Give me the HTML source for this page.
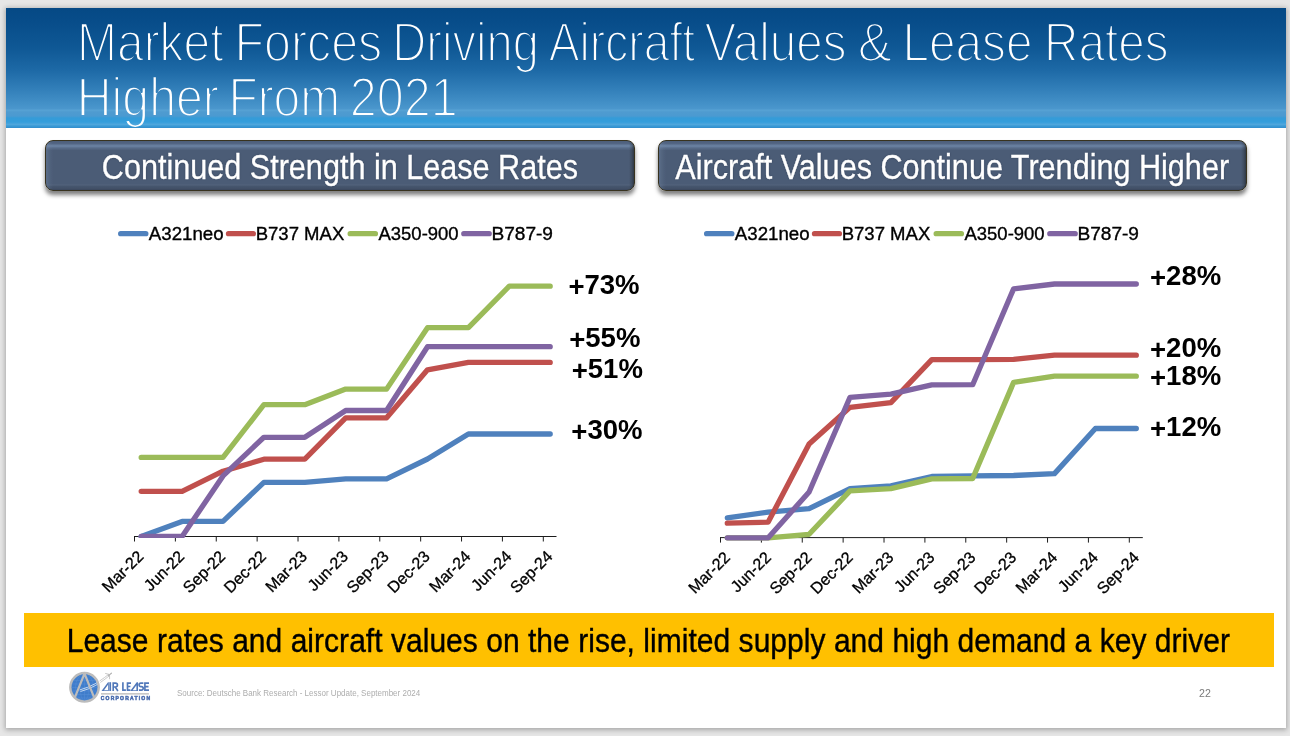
<!DOCTYPE html>
<html>
<head>
<meta charset="utf-8">
<title>Market Forces Driving Aircraft Values &amp; Lease Rates</title>
<style>
  html, body { margin: 0; padding: 0; }
  body {
    width: 1290px; height: 736px; overflow: hidden; position: relative;
    background: #e6e6e6;
    font-family: "Liberation Sans", sans-serif;
  }
  #slide {
    position: absolute; left: 6px; top: 8px; width: 1280px; height: 720px;
    background: #ffffff;
    box-shadow: 0 1px 5px 1px rgba(0,0,0,0.28);
    overflow: hidden; will-change: transform;
  }
  #header {
    position: absolute; left: 0; top: 0; width: 1280px; height: 120px;
    background: linear-gradient(to bottom,
      #054985 0px, #074c89 12px, #0f5895 40px, #1d69a6 62px, #3380ba 82px,
      #4491c8 96px, #4b97cd 101px, #58a3d5 102px, #4f9bd0 104px, #4b9ad1 108px,
      #349bd8 110px, #359edb 114px, #4fa6dc 116.5px, #3a9bd6 118px, #328ccb 120px);
  }
  .btn {
    position: absolute; top: 131.5px; height: 51.5px; box-sizing: border-box;
    border-radius: 8px;
    background:
      linear-gradient(to right, rgba(120,140,170,0.35) 0px, rgba(120,140,170,0.12) 4px, rgba(0,0,0,0) 7px),
      linear-gradient(to left, rgba(25,28,30,0.55) 0px, rgba(25,28,30,0.22) 2.5px, rgba(0,0,0,0) 5px),
      linear-gradient(to bottom, #4c5e79 0px, #526583 2.5px, #6c84a4 5px, #586c8a 7px, #4b5c76 9.5px, #4b5c76 43px, #53637c 44px, #46566e 45px, #414f66 48px, #39455a 49px);
    border: 1.5px solid #38331f;
    box-shadow: 0 4px 4.5px rgba(0,0,0,0.5);
    color: #fff; text-align: center; white-space: nowrap; text-shadow: 0 0.5px 1.5px rgba(15,25,45,0.6);
    font-size: 30.6px; line-height: 48.6px;
  }
  .btn span { display: inline-block; position: relative; top: 3.2px; -webkit-text-stroke: 0.3px #fff;
    transform: scaleY(1.16); transform-origin: 50% 36px; }
  #banner {
    position: absolute; left: 18px; top: 605px; width: 1250px; height: 54px;
    background: #ffc000;
  }
  #bannertext {
    position: absolute; left: 60.7px; top: 616.5px; white-space: nowrap;
    font-size: 30px; line-height: 34px; color: #000; -webkit-text-stroke: 0.35px #000;
    letter-spacing: 0.03px;
    transform: scaleY(1.082); transform-origin: 0 26.5px;
  }
  #source {
    position: absolute; left: 171px; top: 680px; white-space: nowrap;
    font-size: 8px; line-height: 10px; color: #adadad;
    transform: scaleY(1.07); transform-origin: 0 8.2px; margin-top: 0.8px;
  }
  #pagenum {
    position: absolute; left: 1193px; top: 679px; white-space: nowrap;
    font-size: 10.6px; line-height: 12px; color: #7a7a7a;
  }
  svg { position: absolute; left: 0; top: 0; overflow: visible; }
  svg text { font-family: "Liberation Sans", sans-serif; }
</style>
</head>
<body>
<div id="slide">
  <div id="header"></div>

  <!-- Title (thin-weight look through mask) -->
  <svg id="title" width="1280" height="130" viewBox="0 0 1280 130">
    <defs>
      <mask id="thin" maskUnits="userSpaceOnUse" x="0" y="0" width="1280" height="130">
        <g font-size="55.3" fill="#fff" stroke="#000" stroke-width="2.25" stroke-linejoin="round">
          <text x="71.06" y="53.0" textLength="146.50" lengthAdjust="spacingAndGlyphs">Market</text>
          <text x="228.50" y="53.0" textLength="147.71" lengthAdjust="spacingAndGlyphs">Forces</text>
          <text x="386.37" y="53.0" textLength="146.53" lengthAdjust="spacingAndGlyphs">Driving</text>
          <text x="542.65" y="53.0" textLength="146.52" lengthAdjust="spacingAndGlyphs">Aircraft</text>
          <text x="698.47" y="53.0" textLength="142.18" lengthAdjust="spacingAndGlyphs">Values</text>
          <text x="851.70" y="53.0" textLength="34.24" lengthAdjust="spacingAndGlyphs">&amp;</text>
          <text x="896.40" y="53.0" textLength="130.13" lengthAdjust="spacingAndGlyphs">Lease</text>
          <text x="1037.98" y="53.0" textLength="124.63" lengthAdjust="spacingAndGlyphs">Rates</text>
          <text x="70.75" y="108.0" textLength="142.16" lengthAdjust="spacingAndGlyphs">Higher</text>
          <text x="222.42" y="108.0" textLength="111.75" lengthAdjust="spacingAndGlyphs">From</text>
          <text x="343.76" y="108.0" textLength="107.90" lengthAdjust="spacingAndGlyphs">2021</text>
        </g>
      </mask>
    </defs>
    <rect x="0" y="0" width="1280" height="130" fill="#ffffff" mask="url(#thin)"/>
  </svg>

  <div class="btn" style="left:39px; width:589.8px;"><span>Continued Strength in Lease Rates</span></div>
  <div class="btn" style="left:651.7px; width:589px;"><span>Aircraft Values Continue Trending Higher</span></div>

  <!-- CHARTS -->
  <svg id="charts" width="1280" height="720" viewBox="6 8 1280 720">
<clipPath id="clipL"><rect x="114.0" y="200" width="520" height="337.9"/></clipPath>
<path d="M134.0 536.5H556.5" stroke="#1c1c1c" stroke-width="1" fill="none"/>
<path d="M134.50 536.5v5M175.38 536.5v5M216.26 536.5v5M257.14 536.5v5M298.02 536.5v5M338.90 536.5v5M379.78 536.5v5M420.66 536.5v5M461.54 536.5v5M502.42 536.5v5M543.30 536.5v5" stroke="#1c1c1c" stroke-width="1" fill="none"/>
<g fill="none" stroke-width="5.3" stroke-linecap="round" stroke-linejoin="round" clip-path="url(#clipL)">
<polyline points="141.2,536.5 182.1,521.4 223.0,521.4 263.9,482.3 304.8,482.3 345.7,478.9 386.6,478.9 427.5,459.0 468.4,434.0 509.3,434.0 550.2,434.0" stroke="#4f81bd"/>
<polyline points="141.2,491.3 182.1,491.3 223.0,471.2 263.9,459.2 304.8,459.2 345.7,417.8 386.6,417.8 427.5,369.8 468.4,362.4 509.3,362.4 550.2,362.4" stroke="#c0504d"/>
<polyline points="141.2,457.4 182.1,457.4 223.0,457.4 263.9,404.7 304.8,404.7 345.7,389.1 386.6,389.1 427.5,327.7 468.4,327.7 509.3,286.2 550.2,286.2" stroke="#9bbb59"/>
<polyline points="141.2,536.5 182.1,536.5 223.0,475.9 263.9,437.3 304.8,437.3 345.7,410.5 386.6,410.5 427.5,346.7 468.4,346.7 509.3,346.7 550.2,346.7" stroke="#8064a2"/>
</g>
<path d="M720.0 537.6H1142.8" stroke="#1c1c1c" stroke-width="1" fill="none"/>
<path d="M720.50 537.6v5M761.38 537.6v5M802.26 537.6v5M843.14 537.6v5M884.02 537.6v5M924.90 537.6v5M965.78 537.6v5M1006.66 537.6v5M1047.54 537.6v5M1088.42 537.6v5M1129.30 537.6v5" stroke="#1c1c1c" stroke-width="1" fill="none"/>
<g fill="none" stroke-width="5.3" stroke-linecap="round" stroke-linejoin="round">
<polyline points="727.3,517.9 768.2,512.1 809.1,508.7 850.0,488.6 890.9,485.8 931.8,476.5 972.7,475.9 1013.6,475.5 1054.5,473.6 1095.4,428.5 1136.3,428.5" stroke="#4f81bd"/>
<polyline points="727.3,523.1 768.2,522.1 809.1,444.0 850.0,407.3 890.9,402.6 931.8,359.6 972.7,359.6 1013.6,359.3 1054.5,355.2 1095.4,355.2 1136.3,355.2" stroke="#c0504d"/>
<polyline points="727.3,537.8 768.2,537.8 809.1,534.3 850.0,490.9 890.9,488.6 931.8,478.8 972.7,478.5 1013.6,382.4 1054.5,376.2 1095.4,376.2 1136.3,376.2" stroke="#9bbb59"/>
<polyline points="727.3,537.8 768.2,537.8 809.1,492.0 850.0,397.3 890.9,394.2 931.8,384.9 972.7,384.7 1013.6,288.9 1054.5,284.0 1095.4,284.0 1136.3,284.0" stroke="#8064a2"/>
</g>
<path d="M120.7 233.7H145.8" stroke="#4f81bd" stroke-width="5.3" stroke-linecap="round"/>
<text x="148.8" y="239.6" font-size="18" stroke="#000" stroke-width="0.35" textLength="74.8" lengthAdjust="spacingAndGlyphs">A321neo</text>
<path d="M228.5 233.7H253.3" stroke="#c0504d" stroke-width="5.3" stroke-linecap="round"/>
<text x="255.7" y="239.6" font-size="18" stroke="#000" stroke-width="0.35" textLength="88.6" lengthAdjust="spacingAndGlyphs">B737 MAX</text>
<path d="M350.2 233.7H375.4" stroke="#9bbb59" stroke-width="5.3" stroke-linecap="round"/>
<text x="378.5" y="239.6" font-size="18" stroke="#000" stroke-width="0.35" textLength="80.1" lengthAdjust="spacingAndGlyphs">A350-900</text>
<path d="M463.8 233.7H489.2" stroke="#8064a2" stroke-width="5.3" stroke-linecap="round"/>
<text x="491.4" y="239.6" font-size="18" stroke="#000" stroke-width="0.35" textLength="61.6" lengthAdjust="spacingAndGlyphs">B787-9</text>
<path d="M706.6 233.7H731.8" stroke="#4f81bd" stroke-width="5.3" stroke-linecap="round"/>
<text x="734.8" y="239.6" font-size="18" stroke="#000" stroke-width="0.35" textLength="74.8" lengthAdjust="spacingAndGlyphs">A321neo</text>
<path d="M814.5 233.7H839.4" stroke="#c0504d" stroke-width="5.3" stroke-linecap="round"/>
<text x="841.7" y="239.6" font-size="18" stroke="#000" stroke-width="0.35" textLength="88.6" lengthAdjust="spacingAndGlyphs">B737 MAX</text>
<path d="M936.2 233.7H961.4" stroke="#9bbb59" stroke-width="5.3" stroke-linecap="round"/>
<text x="964.5" y="239.6" font-size="18" stroke="#000" stroke-width="0.35" textLength="80.1" lengthAdjust="spacingAndGlyphs">A350-900</text>
<path d="M1049.8 233.7H1075.2" stroke="#8064a2" stroke-width="5.3" stroke-linecap="round"/>
<text x="1077.4" y="239.6" font-size="18" stroke="#000" stroke-width="0.35" textLength="61.6" lengthAdjust="spacingAndGlyphs">B787-9</text>
<text transform="translate(568.4 294.1) scale(1 1.07)" font-size="26" font-weight="bold" textLength="71.2" lengthAdjust="spacingAndGlyphs"><tspan dy="2.0">+</tspan><tspan dy="-2.0">73%</tspan></text>
<text transform="translate(569.2 346.6) scale(1 1.07)" font-size="26" font-weight="bold" textLength="71.2" lengthAdjust="spacingAndGlyphs"><tspan dy="2.0">+</tspan><tspan dy="-2.0">55%</tspan></text>
<text transform="translate(571.7 378.3) scale(1 1.07)" font-size="26" font-weight="bold" textLength="71.2" lengthAdjust="spacingAndGlyphs"><tspan dy="2.0">+</tspan><tspan dy="-2.0">51%</tspan></text>
<text transform="translate(571.3 439.0) scale(1 1.07)" font-size="26" font-weight="bold" textLength="71.2" lengthAdjust="spacingAndGlyphs"><tspan dy="2.0">+</tspan><tspan dy="-2.0">30%</tspan></text>
<text transform="translate(1150.0 285.3) scale(1 1.07)" font-size="26" font-weight="bold" textLength="71.2" lengthAdjust="spacingAndGlyphs"><tspan dy="2.0">+</tspan><tspan dy="-2.0">28%</tspan></text>
<text transform="translate(1150.0 357.3) scale(1 1.07)" font-size="26" font-weight="bold" textLength="71.2" lengthAdjust="spacingAndGlyphs"><tspan dy="2.0">+</tspan><tspan dy="-2.0">20%</tspan></text>
<text transform="translate(1150.0 385.0) scale(1 1.07)" font-size="26" font-weight="bold" textLength="71.2" lengthAdjust="spacingAndGlyphs"><tspan dy="2.0">+</tspan><tspan dy="-2.0">18%</tspan></text>
<text transform="translate(1150.0 436.1) scale(1 1.07)" font-size="26" font-weight="bold" textLength="71.2" lengthAdjust="spacingAndGlyphs"><tspan dy="2.0">+</tspan><tspan dy="-2.0">12%</tspan></text>
<text transform="translate(144.5 557.3) rotate(-45)" text-anchor="end" font-size="16.1" stroke="#000" stroke-width="0.3">Mar-22</text>
<text transform="translate(185.4 557.3) rotate(-45)" text-anchor="end" font-size="16.1" stroke="#000" stroke-width="0.3">Jun-22</text>
<text transform="translate(226.3 557.3) rotate(-45)" text-anchor="end" font-size="16.1" stroke="#000" stroke-width="0.3">Sep-22</text>
<text transform="translate(267.2 557.3) rotate(-45)" text-anchor="end" font-size="16.1" stroke="#000" stroke-width="0.3">Dec-22</text>
<text transform="translate(308.1 557.3) rotate(-45)" text-anchor="end" font-size="16.1" stroke="#000" stroke-width="0.3">Mar-23</text>
<text transform="translate(349.0 557.3) rotate(-45)" text-anchor="end" font-size="16.1" stroke="#000" stroke-width="0.3">Jun-23</text>
<text transform="translate(389.9 557.3) rotate(-45)" text-anchor="end" font-size="16.1" stroke="#000" stroke-width="0.3">Sep-23</text>
<text transform="translate(430.8 557.3) rotate(-45)" text-anchor="end" font-size="16.1" stroke="#000" stroke-width="0.3">Dec-23</text>
<text transform="translate(471.7 557.3) rotate(-45)" text-anchor="end" font-size="16.1" stroke="#000" stroke-width="0.3">Mar-24</text>
<text transform="translate(512.6 557.3) rotate(-45)" text-anchor="end" font-size="16.1" stroke="#000" stroke-width="0.3">Jun-24</text>
<text transform="translate(553.5 557.3) rotate(-45)" text-anchor="end" font-size="16.1" stroke="#000" stroke-width="0.3">Sep-24</text>
<text transform="translate(731.1 558.4) rotate(-45)" text-anchor="end" font-size="16.1" stroke="#000" stroke-width="0.3">Mar-22</text>
<text transform="translate(772.0 558.4) rotate(-45)" text-anchor="end" font-size="16.1" stroke="#000" stroke-width="0.3">Jun-22</text>
<text transform="translate(812.9 558.4) rotate(-45)" text-anchor="end" font-size="16.1" stroke="#000" stroke-width="0.3">Sep-22</text>
<text transform="translate(853.8 558.4) rotate(-45)" text-anchor="end" font-size="16.1" stroke="#000" stroke-width="0.3">Dec-22</text>
<text transform="translate(894.7 558.4) rotate(-45)" text-anchor="end" font-size="16.1" stroke="#000" stroke-width="0.3">Mar-23</text>
<text transform="translate(935.6 558.4) rotate(-45)" text-anchor="end" font-size="16.1" stroke="#000" stroke-width="0.3">Jun-23</text>
<text transform="translate(976.5 558.4) rotate(-45)" text-anchor="end" font-size="16.1" stroke="#000" stroke-width="0.3">Sep-23</text>
<text transform="translate(1017.4 558.4) rotate(-45)" text-anchor="end" font-size="16.1" stroke="#000" stroke-width="0.3">Dec-23</text>
<text transform="translate(1058.3 558.4) rotate(-45)" text-anchor="end" font-size="16.1" stroke="#000" stroke-width="0.3">Mar-24</text>
<text transform="translate(1099.2 558.4) rotate(-45)" text-anchor="end" font-size="16.1" stroke="#000" stroke-width="0.3">Jun-24</text>
<text transform="translate(1140.1 558.4) rotate(-45)" text-anchor="end" font-size="16.1" stroke="#000" stroke-width="0.3">Sep-24</text>
  </svg>

  <div id="banner"></div>
  <div id="bannertext">Lease rates and aircraft values on the rise, limited supply and high demand a key driver</div>

  <!-- LOGO -->
  <svg id="logo" width="1280" height="720" viewBox="6 8 1280 720">
<defs>
  <clipPath id="globeclip"><circle cx="84.5" cy="687.3" r="13.2"/></clipPath>
</defs>
<!-- globe -->
<circle cx="84.5" cy="687.3" r="14.2" fill="#3f7dcb" stroke="#bcbcbc" stroke-width="2.5"/>
<g clip-path="url(#globeclip)" fill="none" stroke="#5d93d8" stroke-width="0.5" opacity="0.8">
  <path d="M71 680.5H98M71 684H98M71 687.5H98M71 691H98M71 694.5H98M71 698H98"/>
  <path d="M84.5 673V702"/>
  <ellipse cx="84.5" cy="687.3" rx="4.5" ry="13.2"/>
  <ellipse cx="84.5" cy="687.3" rx="9" ry="13.2"/>
</g>
<!-- swoosh -->
<g fill="none" stroke-linecap="butt">
  <g clip-path="url(#globeclip)">
    <path d="M79.8 689.9Q95.7 685.7 109.2 673.9" stroke="#e3edfa" stroke-width="0.95" opacity="0.85"/>
    <path d="M80.4 691.5Q96.3 687.3 109.8 675.5" stroke="#e3edfa" stroke-width="0.95" opacity="0.85"/>
  </g>
</g>
<!-- big A -->
<clipPath id="ringclip"><circle cx="84.5" cy="687.3" r="14.6"/></clipPath>
<path d="M75.0 697.2L84.5 673.6L94.0 697.2" fill="none" stroke="#bcbcbc" stroke-width="2.2" stroke-linejoin="miter" clip-path="url(#ringclip)"/>
<g fill="none">
  <path d="M99.6 681.0Q104.6 677.6 108.9 674.2" stroke="#b4b4b4" stroke-width="0.7"/>
  <path d="M100.3 682.5Q105.3 679.0 109.7 675.5" stroke="#b4b4b4" stroke-width="0.7"/>
  <!-- airplane -->
  <path d="M108.4 675.6L111.4 673.2" stroke="#b2b2b2" stroke-width="1.2" stroke-linecap="round"/>
  <path d="M109.8 674.6L105.2 673.4" stroke="#b8b8b8" stroke-width="0.8"/>
  <path d="M109.5 674.8L109.6 679.2" stroke="#b8b8b8" stroke-width="0.8"/>
</g>
<!-- AIR LEASE -->
<g fill="#5178ba" stroke="none">
  <path fill-rule="evenodd" d="M101.5 691.0L108.0 682.2H108.8V691.0Z M104.0 690.2H108.0V684.8Z"/>
  <rect x="109.3" y="682.2" width="1.8" height="8.8"/>
  <path fill-rule="evenodd" d="M130.2 691.0L136.7 682.2H138.0V691.0Z M132.7 690.2H136.4V685.2Z"/>
</g>
<g fill="none" stroke="#5178ba" stroke-width="1.65" stroke-linejoin="miter">
  <path d="M113.2 691.0V683.1H115.5A1.95 1.95 0 0 1 115.5 687.0H113.2M115.3 687.0L117.9 691.0"/>
  <path d="M122.9 682.2V690.1H125.9"/>
  <path d="M131.0 683.1H127.5V690.1H130.4M127.5 686.5H130.4"/>
  <path d="M143.4 683.1H140.8A1.75 1.75 0 0 0 140.8 686.6H141.5A1.75 1.75 0 0 1 141.5 690.1H138.9"/>
  <path d="M149.0 683.1H144.9V690.1H149.0M144.9 686.6H148.5"/>
</g>
<rect x="101.0" y="693.1" width="47.9" height="1.5" fill="#c2c2c2"/>
<text x="100.7" y="699.8" font-size="5.0" font-weight="bold" fill="#4a6cae" stroke="#4a6cae" stroke-width="0.5" textLength="49.4" lengthAdjust="spacing">CORPORATION</text>

  </svg>

  <div id="source">Source: Deutsche Bank Research - Lessor Update, September 2024</div>
  <div id="pagenum">22</div>
</div>
</body>
</html>
